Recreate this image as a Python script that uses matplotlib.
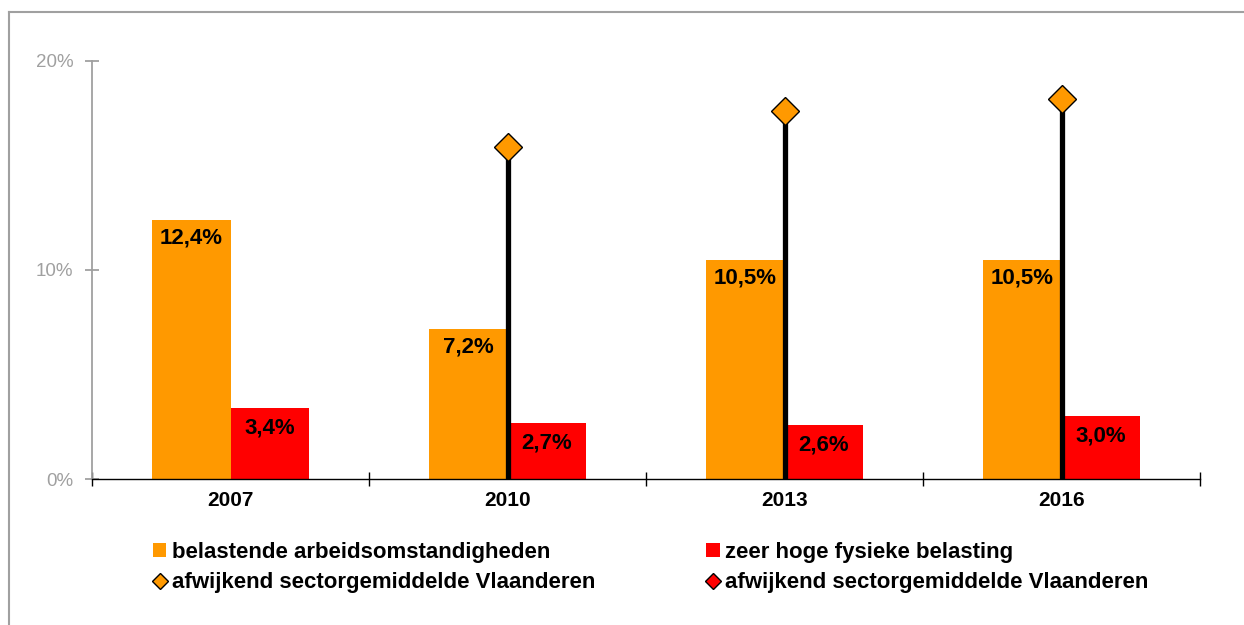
import matplotlib
matplotlib.use("Agg")
import matplotlib.pyplot as plt
from matplotlib.lines import Line2D
from matplotlib.patches import Patch
import numpy as np

years = ["2007", "2010", "2013", "2016"]
belastend = [12.4, 7.2, 10.5, 10.5]
fysiek = [3.4, 2.7, 2.6, 3.0]
sector_belastend = [np.nan, 15.9, 17.6, 18.2]
labels_belastend = ["12,4%", "7,2%", "10,5%", "10,5%"]
labels_fysiek = ["3,4%", "2,7%", "2,6%", "3,0%"]
yticks = [0, 10, 20]
ytick_labels = ["0%", "10%", "20%"]
legend_labels = ["belastende arbeidsomstandigheden",
                 "afwijkend sectorgemiddelde Vlaanderen",
                 "zeer hoge fysieke belasting",
                 "afwijkend sectorgemiddelde Vlaanderen"]

ORANGE = "#FF9900"
RED = "#FF0000"
GRAY = "#A0A0A0"
SANS = ["Liberation Sans", "DejaVu Sans"]

W, H = 1244, 625
fig = plt.figure(figsize=(W / 100, H / 100), dpi=100)
ax = fig.add_axes([92 / W, 1 - 479 / H, (1200 - 92) / W, (479 - 61) / H])

x = np.arange(len(years))
bw = 0.283
ax.bar(x - bw / 2, belastend, bw, color=ORANGE, zorder=2)
ax.bar(x + bw / 2, fysiek, bw, color=RED, zorder=2)

for xi, v in zip(x, sector_belastend):
    if np.isnan(v):
        continue
    ax.plot([xi, xi], [0, v], color="black", lw=3.8, zorder=3, solid_capstyle="butt")
ax.plot(x, sector_belastend, linestyle="none", marker="D", markersize=14.3,
        markerfacecolor=ORANGE, markeredgecolor="black", markeredgewidth=1.0,
        zorder=4, clip_on=False)

for xi, v, t in zip(x, belastend, labels_belastend):
    ax.annotate(t, (xi - bw / 2, v), xytext=(0, -18), textcoords="offset pixels",
                ha="center", va="center", fontsize=16, fontweight="bold",
                family=SANS, zorder=5)
for xi, v, t in zip(x, fysiek, labels_fysiek):
    ax.annotate(t, (xi + bw / 2, v), xytext=(0, -20), textcoords="offset pixels",
                ha="center", va="center", fontsize=16, fontweight="bold",
                family=SANS, zorder=5)

ax.set_xlim(-0.5, len(years) - 0.5)
ax.set_ylim(0, 20)

for s in ["top", "right"]:
    ax.spines[s].set_visible(False)
ax.spines["left"].set_color(GRAY)
ax.spines["left"].set_linewidth(1.3)
ax.spines["bottom"].set_color("black")
ax.spines["bottom"].set_linewidth(1.0)

ax.set_yticks(yticks)
ax.set_yticklabels(ytick_labels, family=SANS, fontsize=13.5, color=GRAY)
ax.tick_params(axis="y", direction="inout", length=10, width=1.3, color=GRAY, pad=8.5)

ax.set_xticks(np.arange(len(years) + 1) - 0.5)
ax.set_xticklabels([])
ax.tick_params(axis="x", which="major", direction="inout", length=9.5, width=1.0, color="black")
ax.set_xticks(x, minor=True)
ax.set_xticklabels(years, minor=True, family=SANS, fontsize=15, fontweight="bold")
ax.tick_params(axis="x", which="minor", length=0, pad=9)

handles = [Patch(facecolor=ORANGE, edgecolor="none"),
           Line2D([], [], linestyle="none", marker="D", markersize=8.5,
                  markerfacecolor=ORANGE, markeredgecolor="black", markeredgewidth=1.0),
           Patch(facecolor=RED, edgecolor="none"),
           Line2D([], [], linestyle="none", marker="D", markersize=8.5,
                  markerfacecolor=RED, markeredgecolor="black", markeredgewidth=1.0)]
leg = fig.legend(handles, legend_labels, ncol=2, loc="upper left",
                 bbox_to_anchor=(142 / W, 1 - 531 / H), frameon=False,
                 prop={"family": SANS, "weight": "bold", "size": 16},
                 handlelength=0.6, handleheight=0.6, handletextpad=0.25,
                 columnspacing=5.0, labelspacing=0.42, borderpad=0)

fig.add_artist(Line2D([9 / W, 9 / W], [0, 1 - 12 / H], color=GRAY, lw=1.5,
                      transform=fig.transFigure))
fig.add_artist(Line2D([9 / W, 1], [1 - 12 / H, 1 - 12 / H], color=GRAY, lw=1.5,
                      transform=fig.transFigure))

fig.savefig("out.png", dpi=100)
